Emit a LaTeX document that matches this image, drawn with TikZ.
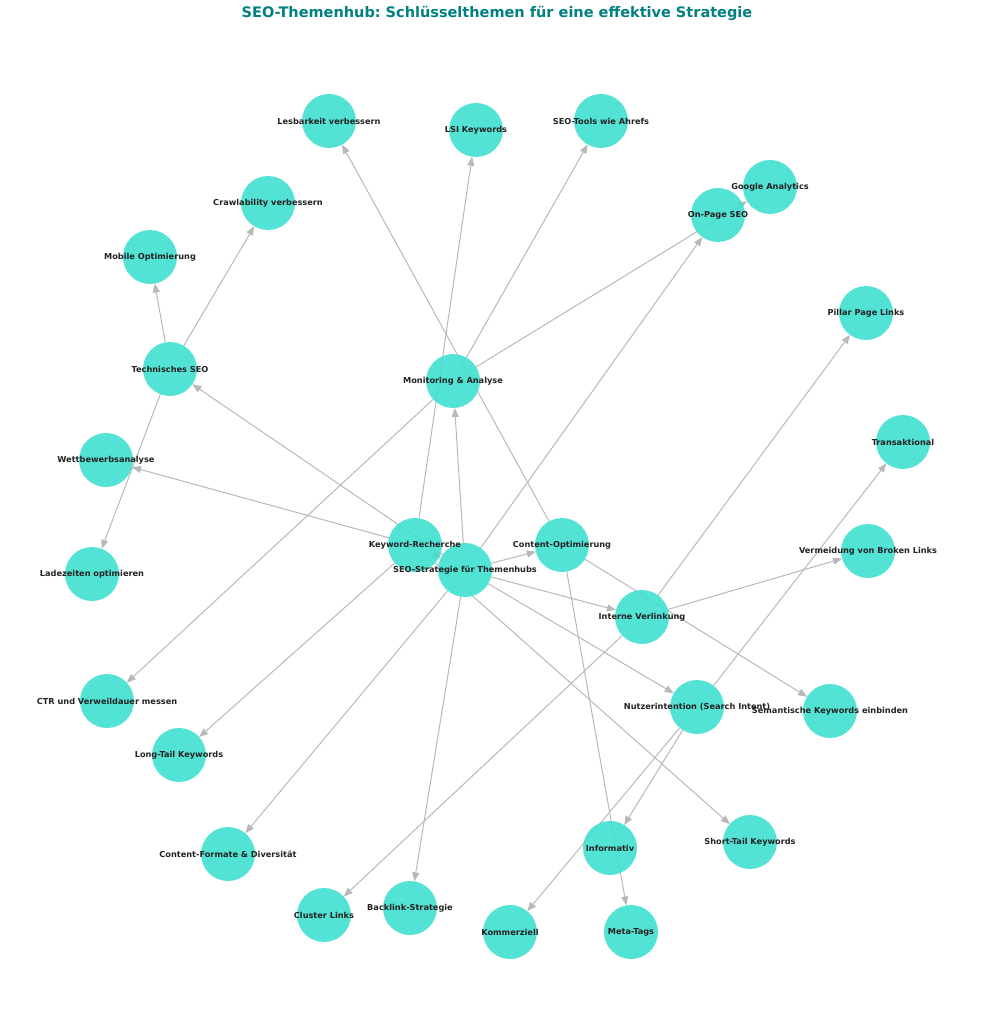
\documentclass[tikz,border=0pt]{standalone}
\usepackage{fontspec}
\setmainfont{DejaVu Sans}
\usetikzlibrary{arrows.meta}
\pgfdeclarelayer{bg}
\pgfsetlayers{bg,main}
\frenchspacing
\definecolor{turq}{HTML}{40E0D0}
\definecolor{edgegray}{HTML}{B8B8B8}
\definecolor{lbl}{HTML}{222222}
\definecolor{titleteal}{HTML}{008080}
\begin{document}
\begin{tikzpicture}[x=1pt,y=-1pt,
  topic/.style={circle, minimum size=54pt, inner sep=0pt, outer sep=0pt, fill=turq, fill opacity=0.9, draw=none},
  lab/.style={font=\fontsize{8.2}{9.5}\selectfont\bfseries, text=lbl, inner sep=0pt},
  edge/.style={draw=edgegray, line width=1pt, -{Triangle[length=9pt,width=7pt]}},
]
\useasboundingbox (0,0) rectangle (995,1024);

\node[font=\fontsize{14.5}{17}\selectfont\bfseries, text=titleteal] (title) at (497,13.5) {SEO-Themenhub: Schlüsselthemen für eine effektive Strategie};

% circles
\node[topic] (seo)  at (465,570) {};
\node[topic] (kr)   at (415,545) {};
\node[topic] (co)   at (562,545) {};
\node[topic] (mon)  at (453,381) {};
\node[topic] (tech) at (170,369) {};
\node[topic] (iv)   at (642,617) {};
\node[topic] (ni)   at (697,707) {};
\node[topic] (les)  at (329,121) {};
\node[topic] (lsi)  at (476,130) {};
\node[topic] (tools) at (601,121) {};
\node[topic] (ga)   at (770,187) {};
\node[topic] (onp)  at (718,215) {};
\node[topic] (crawl) at (268,203) {};
\node[topic] (mob)  at (150,257) {};
\node[topic] (pil)  at (866,313) {};
\node[topic] (trans) at (903,442) {};
\node[topic] (wett) at (106,460) {};
\node[topic] (verm) at (868,551) {};
\node[topic] (lade) at (92,574) {};
\node[topic] (ctr)  at (107,701) {};
\node[topic] (sem)  at (830,711) {};
\node[topic] (lt)   at (179,755) {};
\node[topic] (st)   at (750,842) {};
\node[topic] (cf)   at (228,854) {};
\node[topic] (info) at (610,848) {};
\node[topic] (cl)   at (324,915) {};
\node[topic] (bl)   at (410,908) {};
\node[topic] (kom)  at (510,932) {};
\node[topic] (meta) at (631,932) {};

% edges
\begin{pgfonlayer}{bg}
\draw[edge] (seo) -- (mon);
\draw[edge] (seo) -- (tech);
\draw[edge] (seo) -- (co);
\draw[edge] (seo) -- (onp);
\draw[edge] (seo) -- (iv);
\draw[edge] (seo) -- (ni);
\draw[edge] (seo) -- (bl);
\draw[edge] (seo) -- (cf);
\draw[edge] (kr) -- (seo);
\draw[edge] (kr) -- (wett);
\draw[edge] (kr) -- (lsi);
\draw[edge] (kr) -- (lt);
\draw[edge] (kr) -- (st);
\draw[edge] (mon) -- (tools);
\draw[edge] (mon) -- (ga);
\draw[edge] (mon) -- (ctr);
\draw[edge] (co) -- (les);
\draw[edge] (co) -- (meta);
\draw[edge] (co) -- (sem);
\draw[edge] (tech) -- (mob);
\draw[edge] (tech) -- (crawl);
\draw[edge] (tech) -- (lade);
\draw[edge] (iv) -- (pil);
\draw[edge] (iv) -- (verm);
\draw[edge] (iv) -- (cl);
\draw[edge] (ni) -- (trans);
\draw[edge] (ni) -- (info);
\draw[edge] (ni) -- (kom);
\end{pgfonlayer}

% labels
\node[lab] (seo-l)  at (seo)  {SEO-Strategie für Themenhubs};
\node[lab] (kr-l)   at (kr)   {Keyword-Recherche};
\node[lab] (co-l)   at (co)   {Content-Optimierung};
\node[lab] (mon-l)  at (mon)  {Monitoring \& Analyse};
\node[lab] (tech-l) at (tech) {Technisches SEO};
\node[lab] (iv-l)   at (iv)   {Interne Verlinkung};
\node[lab] (ni-l)   at (ni)   {Nutzerintention (Search Intent)};
\node[lab] (les-l)  at (les)  {Lesbarkeit verbessern};
\node[lab] (lsi-l)  at (lsi)  {LSI Keywords};
\node[lab] (tools-l) at (tools) {SEO-Tools wie Ahrefs};
\node[lab] (ga-l)   at (ga)   {Google Analytics};
\node[lab] (onp-l)  at (onp)  {On-Page SEO};
\node[lab] (crawl-l) at (crawl) {Crawlability verbessern};
\node[lab] (mob-l)  at (mob)  {Mobile Optimierung};
\node[lab] (pil-l)  at (pil)  {Pillar Page Links};
\node[lab] (trans-l) at (trans) {Transaktional};
\node[lab] (wett-l) at (wett) {Wettbewerbsanalyse};
\node[lab] (verm-l) at (verm) {Vermeidung von Broken Links};
\node[lab] (lade-l) at (lade) {Ladezeiten optimieren};
\node[lab] (ctr-l)  at (ctr)  {CTR und Verweildauer messen};
\node[lab] (sem-l)  at (sem)  {Semantische Keywords einbinden};
\node[lab] (lt-l)   at (lt)   {Long-Tail Keywords};
\node[lab] (st-l)   at (st)   {Short-Tail Keywords};
\node[lab] (cf-l)   at (cf)   {Content-Formate \& Diversität};
\node[lab] (info-l) at (info) {Informativ};
\node[lab] (cl-l)   at (cl)   {Cluster Links};
\node[lab] (bl-l)   at (bl)   {Backlink-Strategie};
\node[lab] (kom-l)  at (kom)  {Kommerziell};
\node[lab] (meta-l) at (meta) {Meta-Tags};
\end{tikzpicture}
\end{document}
